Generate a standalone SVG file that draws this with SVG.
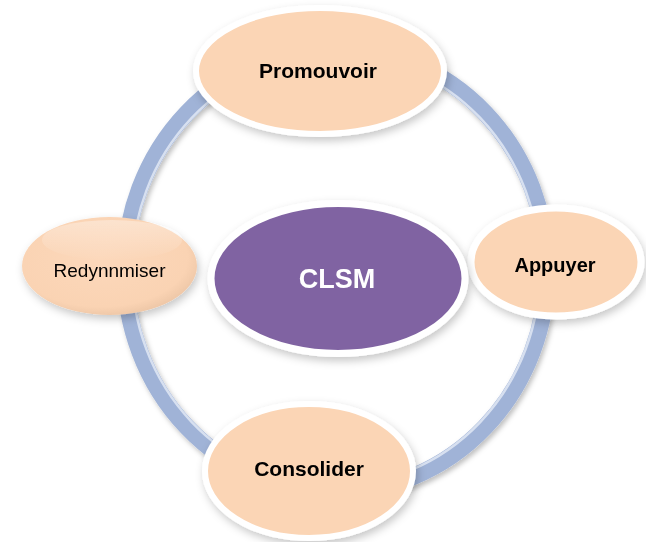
<svg xmlns="http://www.w3.org/2000/svg" width="646" height="542" viewBox="0 0 646 542">
  <defs>
    <style>
      .node { fill: #FBD5B5; stroke: #FFFFFF; stroke-width: 6; }
      .lbl { font-family: "Liberation Sans", Arial, sans-serif; font-weight: bold; fill: #000000; text-anchor: middle; }
      .lblr { font-family: "Liberation Sans", Arial, sans-serif; fill: #000000; text-anchor: middle; }
    </style>
    <filter id="shadow" x="-20%" y="-20%" width="140%" height="150%">
      <feDropShadow dx="2" dy="4" stdDeviation="4" flood-color="#000000" flood-opacity="0.22"/>
    </filter>
    <filter id="ringShadow" x="-10%" y="-10%" width="120%" height="120%">
      <feDropShadow dx="2" dy="3" stdDeviation="2.5" flood-color="#000000" flood-opacity="0.25"/>
    </filter>
    <radialGradient id="gloss" cx="0.45" cy="0.42" r="0.62">
      <stop offset="0" stop-color="#FCD8BB"/>
      <stop offset="0.8" stop-color="#FAD3B3"/>
      <stop offset="1" stop-color="#EBC4A4"/>
    </radialGradient>
    <linearGradient id="hl" x1="0" y1="0" x2="0" y2="1">
      <stop offset="0" stop-color="#FFFFFF" stop-opacity="0.35"/>
      <stop offset="1" stop-color="#FFFFFF" stop-opacity="0"/>
    </linearGradient>
  </defs>
  <rect width="646" height="542" fill="#FFFFFF"/>

  <g id="connectors">
    <ellipse cx="336" cy="270" rx="211" ry="222" fill="none" stroke="#A0B3D7" stroke-width="17" filter="url(#ringShadow)"/>
    <ellipse cx="336" cy="270" rx="204" ry="215" fill="none" stroke="#E9EFF8" stroke-width="2.5" stroke-opacity="0.75"/>
  </g>

  <g id="node-promouvoir" filter="url(#shadow)">
    <ellipse class="node" cx="320" cy="71" rx="124" ry="63"/>
    <text class="lbl" x="318" y="78" font-size="21">Promouvoir</text>
  </g>

  <g id="node-appuyer" filter="url(#shadow)">
    <ellipse class="node" cx="556" cy="262" rx="85" ry="54" style="stroke-width:7"/>
    <text class="lbl" x="555" y="272" font-size="20">Appuyer</text>
  </g>

  <g id="node-redynnmiser" filter="url(#shadow)">
    <ellipse cx="109.5" cy="266" rx="87.5" ry="49" fill="url(#gloss)"/>
    <ellipse cx="112" cy="240" rx="70" ry="20" fill="url(#hl)"/>
    <text class="lblr" x="109.5" y="277" font-size="19">Redynnmiser</text>
  </g>

  <g id="node-consolider" filter="url(#shadow)">
    <ellipse class="node" cx="309" cy="471" rx="104" ry="67"/>
    <text class="lbl" x="309" y="476" font-size="21">Consolider</text>
  </g>

  <g id="node-clsm" filter="url(#shadow)">
    <ellipse cx="338" cy="278.5" rx="127" ry="75" fill="#8064A2" stroke="#FFFFFF" stroke-width="7"/>
    <text x="337" y="288" font-family="Liberation Sans, Arial, sans-serif" font-weight="bold" font-size="27" fill="#FFFFFF" text-anchor="middle">CLSM</text>
  </g>
</svg>
